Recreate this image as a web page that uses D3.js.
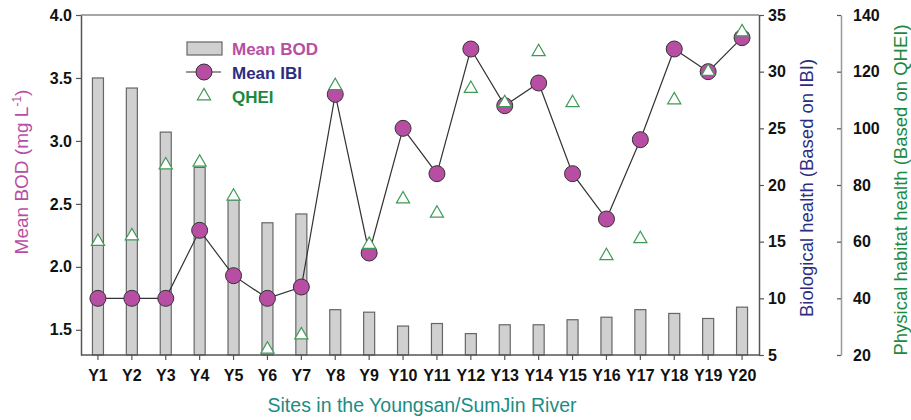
<!DOCTYPE html>
<html><head><meta charset="utf-8">
<script src="https://cdn.jsdelivr.net/npm/d3@7"></script>
<style>
body{margin:0;background:#fff;}
text{font-family:"Liberation Sans",Arial,sans-serif;}
</style></head>
<body><svg id="c" width="911" height="420"></svg>
<script>
const sites = ["Y1","Y2","Y3","Y4","Y5","Y6","Y7","Y8","Y9","Y10","Y11","Y12","Y13","Y14","Y15","Y16","Y17","Y18","Y19","Y20"];
const bod = [3.50,3.42,3.07,2.79,2.53,2.35,2.42,1.66,1.64,1.53,1.55,1.47,1.54,1.54,1.58,1.60,1.66,1.63,1.59,1.68];
const ibi = [10,10,10,16,12,10,11,28,14,25,21,32,27,29,21,17,24,32,30,33];
const qhei = [60,62,87,88,76,22,27,115,59,75,70,114,109,127,109,55,61,110,120,134];
const bodTicks = [1.5,2.0,2.5,3.0,3.5,4.0];
const ibiTicks = [5,10,15,20,25,30,35];
const qheiTicks = [20,40,60,80,100,120,140];

const C_MAG="#b84ea3", C_NAVY="#2c2d80", C_GREEN="#1b8a3e", C_TEAL="#1b8c84", C_AX="#555";
const L=81,R=759,T=15,B=355,R2=841;
const svg=d3.select("#c");
const x=d3.scaleBand().domain(sites).range([L,R]).paddingInner(0.675).paddingOuter(0.3375);
const xc=d=>x(d)+x.bandwidth()/2;
const yB=d3.scaleLinear().domain([1.3,4.0]).range([B,T]);
const yI=d3.scaleLinear().domain([5,35]).range([B,T]);
const yQ=d3.scaleLinear().domain([20,140]).range([B,T]);

// top frame line
svg.append("line").attr("x1",L).attr("x2",R).attr("y1",T).attr("y2",T).attr("stroke","#888").attr("stroke-width",1.5);

// bars
svg.append("g").selectAll("rect").data(sites).join("rect")
  .attr("x",d=>x(d)).attr("width",x.bandwidth())
  .attr("y",(d,i)=>yB(bod[i])).attr("height",(d,i)=>B-yB(bod[i]))
  .attr("fill","#d0d0d0").attr("stroke","#666").attr("stroke-width",1.2);

function styleAxis(g){
  g.select(".domain").attr("stroke",C_AX).attr("stroke-width",1.5);
  g.selectAll(".tick line").attr("stroke",C_AX).attr("stroke-width",1.2);
  g.selectAll(".tick text").attr("fill","#111").style("font-size","16px").style("font-weight","bold");
}
// left axis
const gl=svg.append("g").attr("transform",`translate(${L},0)`)
  .call(d3.axisLeft(yB).tickValues(bodTicks).tickFormat(d3.format(".1f")).tickSize(5).tickSizeOuter(0).tickPadding(4));
styleAxis(gl);
// bottom axis
const gb=svg.append("g").attr("transform",`translate(0,${B})`)
  .call(d3.axisBottom(x).tickSize(5).tickSizeOuter(0).tickPadding(10));
styleAxis(gb);
gb.select(".domain").attr("d",`M${L},0H${R}`);
// right IBI axis
const gr=svg.append("g").attr("transform",`translate(${R},0)`)
  .call(d3.axisRight(yI).tickValues(ibiTicks).tickSize(5).tickSizeOuter(0).tickPadding(4));
styleAxis(gr);
// right QHEI axis
const gq=svg.append("g").attr("transform",`translate(${R2},0)`)
  .call(d3.axisRight(yQ).tickValues(qheiTicks).tickSize(5).tickSizeOuter(0).tickPadding(7));
styleAxis(gq);
gq.selectAll(".tick line").attr("x2",-4);
gq.select(".domain").attr("stroke","#999");

// IBI line
svg.append("path").datum(sites)
  .attr("d",d3.line().x(d=>xc(d)).y((d,i)=>yI(ibi[i])))
  .attr("fill","none").attr("stroke","#333").attr("stroke-width",1.2);
svg.append("g").selectAll("circle").data(sites).join("circle")
  .attr("cx",xc).attr("cy",(d,i)=>yI(ibi[i])).attr("r",8)
  .attr("fill",C_MAG).attr("stroke","#333").attr("stroke-width",1);
// QHEI triangles
const tri=d3.symbol().type(d3.symbolTriangle).size(75);
svg.append("g").selectAll("path").data(sites).join("path")
  .attr("d",tri).attr("transform",(d,i)=>`translate(${xc(d)},${yQ(qhei[i])})`)
  .attr("fill","#fff").attr("stroke","#3f9a55").attr("stroke-width",1.2);

// axis titles
const lt=svg.append("text").attr("transform","translate(28,172) rotate(-90)").attr("text-anchor","middle")
  .attr("fill",C_MAG).style("font-size","19px");
lt.append("tspan").text("Mean BOD (mg L");
lt.append("tspan").text("-1").attr("dy",-7).style("font-size","12px");
lt.append("tspan").text(")").attr("dy",7);
svg.append("text").attr("transform","translate(813,188) rotate(-90)").attr("text-anchor","middle")
  .attr("fill",C_NAVY).style("font-size","18.5px").text("Biological health (Based on IBI)");
svg.append("text").attr("transform","translate(907,190) rotate(-90)").attr("text-anchor","middle")
  .attr("fill",C_GREEN).style("font-size","18.5px").text("Physical habitat health (Based on QHEI)");
svg.append("text").attr("x",422).attr("y",412).attr("text-anchor","middle")
  .attr("fill",C_TEAL).style("font-size","19.5px").text("Sites in the Youngsan/SumJin River");

// legend
const lg=svg.append("g");
lg.append("rect").attr("x",187).attr("y",42).attr("width",35).attr("height",13).attr("fill","#d0d0d0").attr("stroke","#666").attr("stroke-width",1.2);
lg.append("line").attr("x1",186).attr("x2",221).attr("y1",72).attr("y2",72).attr("stroke","#333").attr("stroke-width",1.2);
lg.append("circle").attr("cx",204).attr("cy",72).attr("r",8).attr("fill",C_MAG).attr("stroke","#333");
lg.append("path").attr("d",tri).attr("transform","translate(204,96)").attr("fill","#fff").attr("stroke","#3f9a55").attr("stroke-width",1.2);
const legTxt=[["Mean BOD",C_MAG,55],["Mean IBI",C_NAVY,79],["QHEI",C_GREEN,103]];
legTxt.forEach(([t,c,yy])=>lg.append("text").attr("x",232).attr("y",yy).attr("fill",c)
  .style("font-size","17px").style("font-weight","bold").text(t));
</script></body></html>
